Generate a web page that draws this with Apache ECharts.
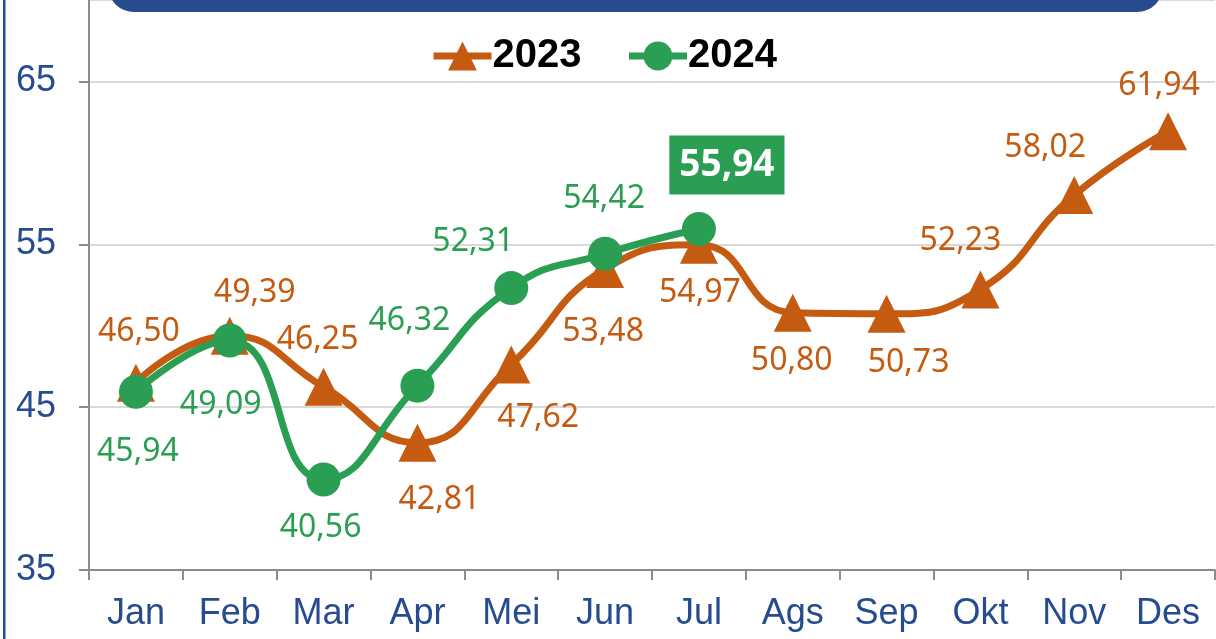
<!DOCTYPE html>
<html lang="id">
<head>
    <meta charset="UTF-8" />
    <title>2023 vs 2024</title>
    <script src="https://cdn.jsdelivr.net/npm/echarts@6/dist/echarts.min.js"></script>
    <style>
        html, body { margin: 0; padding: 0; background: #fff; }
        #main { width: 1216px; height: 639px; }
    </style>
</head>
<body>
    <div id="main"></div>
    <script>
        // data
        var months = ["Jan", "Feb", "Mar", "Apr", "Mei", "Jun", "Jul", "Ags", "Sep", "Okt", "Nov", "Des"];
        var values2023 = [46.50, 49.39, 46.25, 42.81, 47.62, 53.48, 54.97, 50.80, 50.73, 52.23, 58.02, 61.94];
        var values2024 = [45.94, 49.09, 40.56, 46.32, 52.31, 54.42, 55.94];

        // label offsets (px, from the marker centre)
        var offsets2023 = [[3, -51], [25, -43], [-6, -47], [22, 57], [27, 53], [-2, 63], [1, 48], [-1, 48], [22, 49], [-20, -49], [-29, -47], [-9, -45]];
        var offsets2024 = [[2, 60], [-9, 64], [-3, 48], [-8, -65], [-38, -46], [-1, -55], [28, -64]];

        var orange = "#c55a11";
        var green = "#2a9e52";
        var blue = "#264b8f";

        function fmt(v) {
            return v.toFixed(2).replace(".", ",");
        }

        function buildData(values, offsets, color, highlightLast) {
            return values.map(function (v, i) {
                var label = {
                    show: true,
                    position: "inside",
                    offset: offsets[i],
                    color: color,
                    fontFamily: "Noto Sans",
                    fontSize: 32,
                    formatter: fmt(v)
                };
                if (highlightLast && i === values.length - 1) {
                    label.color = "#fff";
                    label.fontWeight = "bold";
                    label.fontSize = 37;
                    label.backgroundColor = color;
                    label.padding = [12, 10, 10, 10];
                }
                return { value: v, label: label };
            });
        }

        var myChart = echarts.init(document.getElementById("main"));

        var option = {
            animation: false,
            graphic: [
                {
                    type: "rect",
                    shape: { x: 108, y: -40, width: 1055, height: 52, r: 30 },
                    style: { fill: blue },
                    z: 10
                },
                {
                    type: "rect",
                    shape: { x: 3, y: 0, width: 2.5, height: 639 },
                    style: { fill: blue },
                    z: 10
                }
            ],
            legend: {
                left: 425,
                top: 31,
                itemWidth: 58,
                itemHeight: 36,
                itemGap: 44,
                lineStyle: { width: 7 },
                textStyle: {
                    fontFamily: "Liberation Sans",
                    fontWeight: "bold",
                    fontSize: 40,
                    color: "#000",
                    padding: [0, 0, 0, -4]
                },
                data: ["2023", "2024"]
            },
            grid: {
                left: 89,
                right: 1,
                top: 0,
                bottom: 69
            },
            xAxis: {
                type: "category",
                data: months,
                boundaryGap: true,
                axisLine: { lineStyle: { color: "#8c8c8c", width: 2 } },
                axisTick: { show: true, length: 10, lineStyle: { color: "#8c8c8c", width: 2 } },
                axisLabel: {
                    color: blue,
                    fontFamily: "Liberation Sans",
                    fontSize: 36,
                    margin: 26
                }
            },
            yAxis: {
                type: "value",
                min: 35,
                max: 70,
                interval: 10,
                axisLine: { show: true, lineStyle: { color: "#8c8c8c", width: 2 } },
                axisTick: { show: true, length: 10, lineStyle: { color: "#8c8c8c", width: 2 } },
                axisLabel: {
                    color: blue,
                    fontFamily: "Liberation Sans",
                    fontSize: 36,
                    margin: 33,
                    showMaxLabel: false
                },
                splitLine: { lineStyle: { color: "#d9d9d9", width: 2 } }
            },
            series: [
                {
                    name: "2023",
                    type: "line",
                    smooth: 0.5,
                    symbol: "triangle",
                    symbolSize: 38,
                    color: orange,
                    lineStyle: { color: orange, width: 7 },
                    itemStyle: { color: orange },
                    data: buildData(values2023, offsets2023, orange, false)
                },
                {
                    name: "2024",
                    type: "line",
                    smooth: 0.5,
                    symbol: "circle",
                    symbolSize: 34,
                    color: green,
                    lineStyle: { color: green, width: 7 },
                    itemStyle: { color: green },
                    data: buildData(values2024, offsets2024, green, true)
                }
            ]
        };

        myChart.setOption(option);
    </script>
</body>
</html>
